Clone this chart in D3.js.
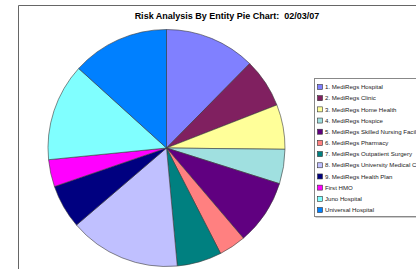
<!DOCTYPE html>
<html><head><meta charset="utf-8">
<script src="https://cdn.jsdelivr.net/npm/d3@7"></script>
<style>html,body{margin:0;padding:0;background:#fff;overflow:hidden}svg{display:block}text{white-space:pre}</style>
</head><body>
<svg id="c" width="416" height="269"></svg>
<script>
const title = "Risk Analysis By Entity Pie Chart:  02/03/07";
const categories = ["1. MediRegs Hospital","2. MediRegs Clinic","3. MediRegs Home Health","4. MediRegs Hospice","5. MediRegs Skilled Nursing Facility","6. MediRegs Pharmacy","7. MediRegs Outpatient Surgery","8. MediRegs University Medical Center","9. MediRegs Health Plan","First HMO","Juno Hospital","Universal Hospital"];
const values = [12.4, 6.7, 6.1, 4.7, 8.9, 3.7, 6.1, 15.2, 6.0, 3.7, 13.3, 13.3];
const colors = ["#8080FF","#802060","#FFFF99","#A0E0E0","#600080","#FF8080","#008080","#C0C0FF","#000080","#FF00FF","#80FFFF","#0080FF"];

const svg = d3.select("#c");
const font = "Arial, 'Liberation Sans', sans-serif";

// chart frame
svg.append("path").attr("d","M18.5,300V5.5H430").attr("fill","none").attr("stroke","#666").attr("stroke-width",1);

svg.append("text").attr("x",227).attr("y",19).attr("text-anchor","middle")
  .attr("font-family",font).attr("font-size",9).attr("font-weight","bold").attr("fill","#000").text(title);

const cx=166.5, cy=148, r=118.5;
const pie = d3.pie().sort(null).value(d=>d);
const arc = d3.arc().innerRadius(0).outerRadius(r);
const g = svg.append("g").attr("transform",`translate(${cx},${cy})`);
g.selectAll("path").data(pie(values)).join("path")
  .attr("d",arc).attr("fill",(d,i)=>colors[i])
  .attr("stroke","#3a3a3a").attr("stroke-width",0.6).attr("stroke-linejoin","round");

// legend
const lx=314.5, ly=78.5, lh=138;
svg.append("rect").attr("x",lx+1).attr("y",ly+1).attr("width",200).attr("height",lh).attr("fill","#999");
svg.append("rect").attr("x",lx).attr("y",ly).attr("width",200).attr("height",lh).attr("fill","#fff").attr("stroke","#888").attr("stroke-width",1);
const y = d3.scalePoint().domain(categories).range([87,210]);
const lg = svg.append("g");
lg.selectAll("rect.sw").data(categories).join("rect").attr("class","sw")
  .attr("x",317.5).attr("y",d=>y(d)-2.5).attr("width",5).attr("height",5)
  .attr("fill",(d,i)=>colors[i]).attr("stroke","#333").attr("stroke-width",0.6);
lg.selectAll("text").data(categories).join("text")
  .attr("x",325).attr("y",d=>y(d)+2.2)
  .attr("font-family",font).attr("font-size",6.1).attr("fill","#222").text(d=>d);
</script>
</body></html>
